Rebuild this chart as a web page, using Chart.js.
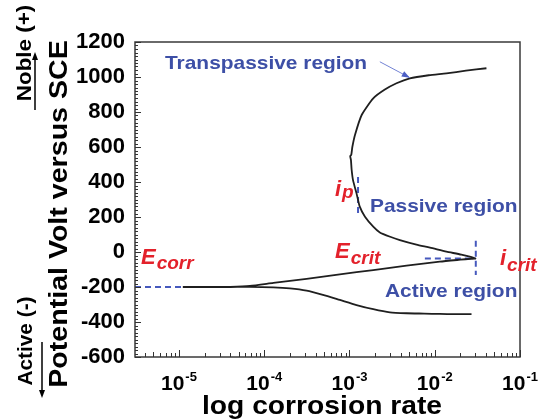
<!DOCTYPE html>
<html>
<head>
<meta charset="utf-8">
<script src="https://cdn.jsdelivr.net/npm/chart.js@4.4.1/dist/chart.umd.min.js"></script>
<style>
  html, body { margin: 0; padding: 0; background: #fff; }
  #chart { display: block; }
</style>
</head>
<body>
<canvas id="chart" width="543" height="419"></canvas>
<script>
// polarization curve (rate, potential in mV vs SCE)
var curveRate = [
    0.0270, 0.0170, 0.01148, 0.0075, 0.00467, 0.00298, 0.00190, 0.00121, 0.00077, 0.000488,
    0.000314, 0.000200, 0.000128, 0.000068, 0.000040, 0.000023, 0.0000111,
    0.000023, 0.000040, 0.000068, 0.000128, 0.000314, 0.00077, 0.00190, 0.00467, 0.01148,
    0.0200, 0.0262, 0.0300,
    0.0205, 0.0137, 0.0088, 0.0061, 0.0039, 0.0030, 0.00227, 0.00190, 0.00152, 0.00132,
    0.00121, 0.00110, 0.00106, 0.00104, 0.00102, 0.00105, 0.00108, 0.00116, 0.00139,
    0.00190, 0.00260, 0.00356, 0.0051, 0.0085, 0.0137, 0.0232, 0.0404
];
var curvePotential = [
    -355, -355, -354, -352, -350, -345, -327, -303, -274, -245,
    -221, -208, -202, -199, -200, -200, -200,
    -200, -199, -194, -177, -154, -128, -103, -78, -55,
    -44, -39, -37,
    -15, 2, 25, 42, 68, 87, 112, 145, 202, 259,
    335, 411, 470, 526, 548, 556, 600, 669, 783,
    878, 928, 964, 992, 1010, 1021, 1036, 1050
];

// dashed marker lines (blue)
var ecorrRate = [3.05e-6, 1.11e-5];
var ecorrPotential = [-200, -200];
var ecritRate = [0.00766, 0.0300];
var ecritPotential = [-37, -37];
var icritRate = [0.0303, 0.0303];
var icritPotential = [65, -131];
var ipRate = [0.00126, 0.00126];
var ipPotential = [429, 211];

// arrow to transpassive region
var arrowRate = [0.00227, 0.0051];
var arrowPotential = [1087, 996];

var yTicks = [-600, -400, -200, 0, 200, 400, 600, 800, 1000, 1200];
var xTickExp = [-5, -4, -3, -2, -1];

function toPoints(xs, ys) {
    var out = [];
    for (var i = 0; i < xs.length; i++) {
        out.push({ x: xs[i], y: ys[i] });
    }
    return out;
}

var blue = '#3d4fa6';
var red = '#e3212b';

function dashSet(xs, ys) {
    return {
        data: toPoints(xs, ys),
        showLine: true,
        borderColor: '#4659bd',
        borderWidth: 2,
        borderDash: [6, 4],
        pointRadius: 0,
        tension: 0
    };
}

// text drawn a little wider than the font, like the original figure
function wideText(ctx, text, x, y, sx, rot) {
    ctx.save();
    ctx.translate(x, y);
    if (rot) ctx.rotate(rot);
    ctx.scale(sx, 1);
    ctx.fillText(text, 0, 0);
    ctx.restore();
}

function drawSubText(ctx, main, sub, x, y, color, size, subSize, drop) {
    ctx.fillStyle = color;
    ctx.textAlign = 'left';
    ctx.textBaseline = 'alphabetic';
    ctx.font = 'italic bold ' + size + 'px Arial';
    ctx.fillText(main, x, y);
    var w = ctx.measureText(main).width;
    ctx.font = 'italic bold ' + subSize + 'px Arial';
    ctx.fillText(sub, x + w + 1, y + drop);
}

function drawArrowHead(ctx, x1, y1, x2, y2, len, wid) {
    var a = Math.atan2(y2 - y1, x2 - x1);
    ctx.beginPath();
    ctx.moveTo(x2, y2);
    ctx.lineTo(x2 - len * Math.cos(a) + wid * Math.sin(a), y2 - len * Math.sin(a) - wid * Math.cos(a));
    ctx.lineTo(x2 - len * Math.cos(a) - wid * Math.sin(a), y2 - len * Math.sin(a) + wid * Math.cos(a));
    ctx.closePath();
    ctx.fill();
}

var framePlugin = {
    id: 'frame',
    afterDraw: function(chart) {
        var ctx = chart.ctx;
        var area = chart.chartArea;
        var xs = chart.scales.x;
        var ys = chart.scales.y;
        ctx.save();

        // box
        ctx.strokeStyle = '#3a3a3a';
        ctx.lineWidth = 1.5;
        ctx.strokeRect(area.left, area.top, area.right - area.left, area.bottom - area.top);

        // inward ticks on the left axis
        ctx.lineWidth = 1;
        ctx.strokeStyle = '#333';
        ctx.beginPath();
        for (var v = -600; v <= 1200; v += 20) {
            var py = Math.round(ys.getPixelForValue(v)) + 0.5;
            var len = (v % 200 === 0) ? 6 : 3;
            ctx.moveTo(area.left, py);
            ctx.lineTo(area.left + len, py);
        }
        // inward ticks on the bottom axis
        for (var e = -6; e <= -1; e++) {
            for (var m = 1; m <= 9; m++) {
                var val = m * Math.pow(10, e);
                if (val < xs.min || val > xs.max) continue;
                var px = Math.round(xs.getPixelForValue(val)) + 0.5;
                var tl = (m === 1) ? 7 : (m === 5 ? 5 : 4);
                ctx.moveTo(px, area.bottom);
                ctx.lineTo(px, area.bottom - tl);
            }
        }
        ctx.stroke();

        // x tick labels with superscripts
        ctx.fillStyle = '#000';
        ctx.textBaseline = 'alphabetic';
        xTickExp.forEach(function(ex) {
            var px = xs.getPixelForValue(Math.pow(10, ex));
            ctx.font = 'bold 21px Arial';
            var w1 = ctx.measureText('10').width;
            ctx.font = 'bold 13px Arial';
            var sup = '-' + Math.abs(ex);
            var w2 = ctx.measureText(sup).width;
            var x0 = px - (w1 + w2 + 1) / 2;
            ctx.font = 'bold 21px Arial';
            ctx.textAlign = 'left';
            ctx.fillText('10', x0, 390);
            ctx.font = 'bold 13px Arial';
            ctx.fillText(sup, x0 + w1 + 1, 381);
        });

        // axis titles
        ctx.textAlign = 'center';
        ctx.font = 'bold 25px Arial';
        wideText(ctx, 'log corrosion rate', 322, 414, 1.13);

        ctx.font = 'bold 26px Arial';
        wideText(ctx, 'Potential Volt versus SCE', 67, 214, 1.1, -Math.PI / 2);

        ctx.font = 'bold 20px Arial';
        wideText(ctx, 'Noble (+)', 31, 53, 1.12, -Math.PI / 2);
        wideText(ctx, 'Active (-)', 32, 341, 1.04, -Math.PI / 2);

        // direction arrows
        ctx.strokeStyle = '#000';
        ctx.fillStyle = '#000';
        ctx.lineWidth = 1.5;
        ctx.beginPath();
        ctx.moveTo(35, 110);
        ctx.lineTo(35, 58);
        ctx.moveTo(42, 342);
        ctx.lineTo(42, 392);
        ctx.stroke();
        drawArrowHead(ctx, 35, 110, 35, 52, 8, 3);
        drawArrowHead(ctx, 42, 342, 42, 398, 8, 3);

        // arrow to the transpassive part of the curve
        var ax1 = xs.getPixelForValue(arrowRate[0]), ay1 = ys.getPixelForValue(arrowPotential[0]);
        var ax2 = xs.getPixelForValue(arrowRate[1]), ay2 = ys.getPixelForValue(arrowPotential[1]);
        ctx.strokeStyle = '#7383d4';
        ctx.fillStyle = '#4c5fc4';
        ctx.lineWidth = 1;
        ctx.beginPath();
        ctx.moveTo(ax1, ay1);
        ctx.lineTo(ax2, ay2);
        ctx.stroke();
        drawArrowHead(ctx, ax1, ay1, ax2, ay2, 8, 3);

        // region labels
        ctx.fillStyle = blue;
        ctx.textAlign = 'left';
        ctx.font = 'bold 19px Arial';
        wideText(ctx, 'Transpassive region', 165, 69, 1.1);
        wideText(ctx, 'Passive region', 370, 212, 1.1);
        wideText(ctx, 'Active region', 385, 297, 1.1);

        // E / i labels
        drawSubText(ctx, 'E', 'corr', 141, 264, red, 22, 19, 5);
        drawSubText(ctx, 'E', 'crit', 335, 258, red, 22, 19, 6);
        drawSubText(ctx, 'i', 'crit', 500, 265, red, 22, 19, 6);
        drawSubText(ctx, 'i', 'p', 335, 196, red, 22, 19, 2);

        ctx.restore();
    }
};

var ctx = document.getElementById('chart').getContext('2d');
var chart = new Chart(ctx, {
    type: 'scatter',
    data: {
        datasets: [
            {
                data: toPoints(curveRate, curvePotential),
                showLine: true,
                borderColor: '#1f1f1f',
                borderWidth: 1.8,
                pointRadius: 0,
                tension: 0.2
            },
            dashSet(ecorrRate, ecorrPotential),
            dashSet(ecritRate, ecritPotential),
            dashSet(icritRate, icritPotential),
            dashSet(ipRate, ipPotential)
        ]
    },
    options: {
        responsive: false,
        animation: false,
        layout: { padding: { top: 42, right: 23, left: 0, bottom: 0 } },
        plugins: {
            legend: { display: false },
            tooltip: { enabled: false }
        },
        scales: {
            x: {
                type: 'logarithmic',
                min: 3.05e-6,
                max: 0.1,
                ticks: { display: false },
                grid: { display: false, drawTicks: false },
                border: { display: false },
                afterFit: function(scale) { scale.height = 62; }
            },
            y: {
                min: -600,
                max: 1200,
                afterBuildTicks: function(scale) {
                    scale.ticks = yTicks.map(function(v) { return { value: v }; });
                },
                ticks: {
                    color: '#000',
                    padding: 10,
                    font: { family: 'Arial', size: 22, weight: 'bold' },
                    callback: function(value) { return String(value); }
                },
                grid: { display: false, drawTicks: false },
                border: { display: false },
                afterFit: function(scale) { scale.width = 135; }
            }
        }
    },
    plugins: [framePlugin]
});
</script>
</body>
</html>
